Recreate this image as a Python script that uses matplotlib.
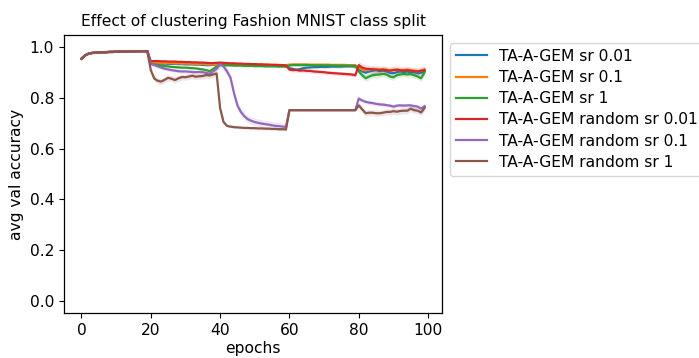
import numpy as np
import matplotlib
matplotlib.use('Agg')
import matplotlib.pyplot as plt

plt.rcParams['font.size'] = 11.2
plt.rcParams['lines.linewidth'] = 1.6
plt.rcParams['axes.linewidth'] = 0.9
plt.rcParams['xtick.major.size'] = 3.8
plt.rcParams['ytick.major.size'] = 3.8

epochs = np.arange(100)

labels = ['TA-A-GEM sr 0.01', 'TA-A-GEM sr 0.1', 'TA-A-GEM sr 1',
          'TA-A-GEM random sr 0.01', 'TA-A-GEM random sr 0.1', 'TA-A-GEM random sr 1']

# mean validation accuracy per epoch, rows = tasks of 20 epochs
acc_sr001 = [0.956, 0.968, 0.975, 0.978, 0.979, 0.980, 0.981, 0.981, 0.982, 0.982, 0.983, 0.983, 0.983, 0.984, 0.984, 0.984, 0.984, 0.985, 0.985, 0.985,
             0.938, 0.937, 0.937, 0.936, 0.936, 0.935, 0.935, 0.935, 0.934, 0.934, 0.933, 0.933, 0.933, 0.932, 0.932, 0.931, 0.930, 0.930, 0.931, 0.934,
             0.936, 0.935, 0.934, 0.933, 0.933, 0.932, 0.932, 0.931, 0.931, 0.930, 0.930, 0.930, 0.929, 0.929, 0.929, 0.928, 0.928, 0.928, 0.927, 0.927,
             0.918, 0.915, 0.912, 0.914, 0.918, 0.920, 0.921, 0.922, 0.922, 0.923, 0.923, 0.923, 0.924, 0.924, 0.924, 0.924, 0.925, 0.925, 0.925, 0.924,
             0.915, 0.905, 0.900, 0.905, 0.908, 0.910, 0.906, 0.908, 0.905, 0.900, 0.898, 0.902, 0.905, 0.902, 0.905, 0.900, 0.902, 0.898, 0.900, 0.905]
acc_sr01 = [0.955, 0.968, 0.975, 0.978, 0.979, 0.980, 0.981, 0.982, 0.982, 0.982, 0.983, 0.983, 0.984, 0.984, 0.984, 0.984, 0.985, 0.985, 0.985, 0.985,
            0.940, 0.940, 0.939, 0.939, 0.938, 0.938, 0.938, 0.937, 0.937, 0.936, 0.936, 0.936, 0.935, 0.935, 0.934, 0.935, 0.933, 0.932, 0.933, 0.935,
            0.937, 0.936, 0.936, 0.935, 0.935, 0.934, 0.934, 0.934, 0.933, 0.933, 0.933, 0.932, 0.932, 0.932, 0.931, 0.931, 0.931, 0.931, 0.930, 0.930,
            0.932, 0.933, 0.933, 0.933, 0.933, 0.933, 0.932, 0.932, 0.932, 0.932, 0.932, 0.932, 0.931, 0.931, 0.931, 0.931, 0.931, 0.930, 0.930, 0.930,
            0.920, 0.912, 0.910, 0.912, 0.915, 0.913, 0.912, 0.914, 0.912, 0.908, 0.910, 0.912, 0.910, 0.911, 0.912, 0.910, 0.908, 0.905, 0.908, 0.914]
acc_sr1 = [0.956, 0.969, 0.975, 0.978, 0.979, 0.980, 0.981, 0.981, 0.982, 0.982, 0.983, 0.983, 0.983, 0.984, 0.984, 0.984, 0.985, 0.985, 0.985, 0.985,
           0.935, 0.933, 0.930, 0.928, 0.926, 0.925, 0.923, 0.922, 0.921, 0.920, 0.920, 0.919, 0.918, 0.917, 0.915, 0.913, 0.910, 0.906, 0.915, 0.925,
           0.930, 0.930, 0.929, 0.929, 0.928, 0.928, 0.928, 0.927, 0.927, 0.927, 0.926, 0.926, 0.926, 0.925, 0.925, 0.925, 0.925, 0.924, 0.924, 0.924,
           0.929, 0.930, 0.930, 0.930, 0.930, 0.930, 0.930, 0.929, 0.929, 0.929, 0.929, 0.929, 0.929, 0.928, 0.928, 0.928, 0.928, 0.928, 0.927, 0.927,
           0.905, 0.890, 0.878, 0.885, 0.890, 0.892, 0.893, 0.895, 0.893, 0.885, 0.882, 0.890, 0.893, 0.895, 0.893, 0.895, 0.890, 0.885, 0.878, 0.903]
acc_rand_sr001 = [0.955, 0.968, 0.975, 0.978, 0.979, 0.980, 0.981, 0.981, 0.982, 0.983, 0.983, 0.983, 0.984, 0.984, 0.984, 0.985, 0.985, 0.985, 0.985, 0.986,
                  0.945, 0.946, 0.946, 0.945, 0.945, 0.944, 0.944, 0.944, 0.943, 0.943, 0.942, 0.942, 0.941, 0.941, 0.940, 0.940, 0.939, 0.938, 0.938, 0.939,
                  0.940, 0.939, 0.938, 0.937, 0.937, 0.936, 0.936, 0.935, 0.935, 0.934, 0.934, 0.933, 0.933, 0.932, 0.932, 0.931, 0.931, 0.930, 0.930, 0.929,
                  0.912, 0.910, 0.911, 0.908, 0.909, 0.907, 0.907, 0.905, 0.904, 0.903, 0.902, 0.900, 0.899, 0.898, 0.897, 0.896, 0.895, 0.894, 0.893, 0.890,
                  0.930, 0.920, 0.916, 0.915, 0.913, 0.912, 0.911, 0.912, 0.910, 0.908, 0.911, 0.912, 0.910, 0.908, 0.910, 0.908, 0.906, 0.905, 0.908, 0.910]
acc_rand_sr01 = [0.955, 0.968, 0.975, 0.978, 0.979, 0.980, 0.981, 0.981, 0.982, 0.982, 0.983, 0.983, 0.983, 0.984, 0.984, 0.984, 0.984, 0.985, 0.985, 0.985,
                 0.935, 0.930, 0.925, 0.920, 0.916, 0.913, 0.910, 0.908, 0.906, 0.905, 0.905, 0.904, 0.903, 0.902, 0.903, 0.902, 0.899, 0.896, 0.905, 0.915,
                 0.933, 0.925, 0.905, 0.880, 0.820, 0.770, 0.745, 0.728, 0.716, 0.710, 0.705, 0.702, 0.699, 0.697, 0.695, 0.692, 0.690, 0.689, 0.687, 0.686,
                 0.752, 0.752, 0.752, 0.752, 0.752, 0.752, 0.752, 0.752, 0.752, 0.752, 0.752, 0.752, 0.752, 0.752, 0.752, 0.752, 0.752, 0.752, 0.752, 0.752,
                 0.798, 0.790, 0.785, 0.782, 0.780, 0.777, 0.775, 0.774, 0.772, 0.770, 0.766, 0.770, 0.771, 0.770, 0.771, 0.771, 0.768, 0.766, 0.758, 0.768]
acc_rand_sr1 = [0.955, 0.968, 0.975, 0.978, 0.979, 0.980, 0.981, 0.981, 0.982, 0.982, 0.983, 0.983, 0.983, 0.984, 0.984, 0.984, 0.985, 0.985, 0.985, 0.985,
                0.910, 0.877, 0.868, 0.865, 0.872, 0.880, 0.876, 0.871, 0.878, 0.883, 0.882, 0.885, 0.888, 0.884, 0.886, 0.887, 0.891, 0.889, 0.893, 0.897,
                0.760, 0.705, 0.690, 0.687, 0.685, 0.684, 0.683, 0.682, 0.682, 0.681, 0.681, 0.680, 0.680, 0.679, 0.679, 0.678, 0.678, 0.677, 0.677, 0.676,
                0.752, 0.752, 0.752, 0.752, 0.752, 0.752, 0.752, 0.752, 0.752, 0.752, 0.752, 0.752, 0.752, 0.752, 0.752, 0.752, 0.752, 0.752, 0.752, 0.752,
                0.771, 0.755, 0.740, 0.742, 0.742, 0.740, 0.740, 0.742, 0.745, 0.745, 0.748, 0.746, 0.749, 0.750, 0.750, 0.758, 0.752, 0.750, 0.743, 0.761]

# std over runs, one value per task of 20 epochs
std_sr001 = [0.003, 0.004, 0.004, 0.006, 0.012]
std_sr01 = [0.003, 0.004, 0.004, 0.004, 0.010]
std_sr1 = [0.003, 0.005, 0.004, 0.004, 0.012]
std_rand_sr001 = [0.003, 0.005, 0.004, 0.008, 0.015]
std_rand_sr01 = [0.003, 0.008, 0.015, 0.003, 0.008]
std_rand_sr1 = [0.003, 0.012, 0.005, 0.003, 0.012]

means = [acc_sr001, acc_sr01, acc_sr1, acc_rand_sr001, acc_rand_sr01, acc_rand_sr1]
stds = [std_sr001, std_sr01, std_sr1, std_rand_sr001, std_rand_sr01, std_rand_sr1]

fig = plt.figure(figsize=(6.99, 3.58), dpi=100)
ax = fig.add_axes([0.092, 0.125, 0.540, 0.778])

for lab, m, s in zip(labels, means, stds):
    m = np.array(m)
    s = np.repeat(s, 20)
    line, = ax.plot(epochs, m, label=lab)
    ax.fill_between(epochs, m - s, m + s, color=line.get_color(), alpha=0.15, linewidth=0)

ax.set_ylim(-0.05, 1.05)
ax.set_xlabel('epochs', labelpad=2)
ax.set_ylabel('avg val accuracy')
ax.set_title('Effect of clustering Fashion MNIST class split', fontsize=11.2)
ax.legend(bbox_to_anchor=(1, 1), loc='upper left', labelspacing=0.4)

fig.savefig('out.png', dpi=100)
